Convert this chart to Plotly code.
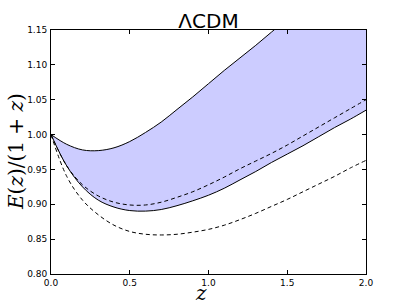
import plotly.graph_objects as go

z = [0.0, 0.1, 0.2, 0.3, 0.4, 0.5, 0.6, 0.7, 0.8, 0.9, 1.0, 1.1, 1.2, 1.3, 1.4, 1.5, 1.6, 1.7, 1.8, 1.9, 2.0]
upper_solid = [1.000, 0.986, 0.978, 0.977, 0.981, 0.990, 1.003, 1.018, 1.036, 1.054, 1.073, 1.092, 1.110, 1.128, 1.147, 1.166, 1.186, 1.207, 1.228, 1.250, 1.272]
lower_solid = [1.000, 0.955, 0.925, 0.906, 0.896, 0.8910, 0.8902, 0.8925, 0.898, 0.905, 0.913, 0.923, 0.935, 0.947, 0.960, 0.972, 0.984, 0.997, 1.010, 1.022, 1.035]
upper_dashed = [1.000, 0.955, 0.928, 0.912, 0.903, 0.899, 0.899, 0.903, 0.910, 0.918, 0.928, 0.939, 0.951, 0.962, 0.973, 0.985, 0.998, 1.011, 1.024, 1.037, 1.050]
lower_dashed = [1.000, 0.940, 0.906, 0.885, 0.870, 0.861, 0.857, 0.856, 0.857, 0.860, 0.864, 0.870, 0.878, 0.887, 0.897, 0.907, 0.918, 0.929, 0.940, 0.952, 0.963]

x_ticks = [0.0, 0.5, 1.0, 1.5, 2.0]
y_ticks = [0.80, 0.85, 0.90, 0.95, 1.00, 1.05, 1.10, 1.15]

fig = go.Figure()
fig.add_trace(go.Scatter(x=z, y=lower_solid, mode="lines", line=dict(color="black", width=1, shape="spline"), showlegend=False))
fig.add_trace(go.Scatter(x=z, y=upper_solid, mode="lines", line=dict(color="black", width=1, shape="spline"),
                         fill="tonexty", fillcolor="rgb(204,204,255)", showlegend=False))
fig.add_trace(go.Scatter(x=z, y=upper_dashed, mode="lines", line=dict(color="black", width=1, dash="4px,3px", shape="spline"), showlegend=False))
fig.add_trace(go.Scatter(x=z, y=lower_dashed, mode="lines", line=dict(color="black", width=1, dash="4px,3px", shape="spline"), showlegend=False))

axis_common = dict(showline=True, linecolor="black", linewidth=1, mirror="ticks", ticks="inside",
                   ticklen=4, tickcolor="black", showgrid=False, zeroline=False, automargin=False,
                   tickfont=dict(family="DejaVu Sans", size=9, color="black"))

fig.update_xaxes(range=[0, 2], tickvals=x_ticks, tickformat=".1f", ticklabelstandoff=0, **axis_common)
fig.update_yaxes(range=[0.80, 1.15], tickvals=y_ticks, tickformat=".2f", ticklabelstandoff=1, **axis_common)

fig.update_layout(
    width=407, height=305,
    margin=dict(l=51, r=41, t=30, b=31),
    paper_bgcolor="white", plot_bgcolor="white",
    title=dict(text="ΛCDM", x=0.5, xref="paper", xanchor="center", y=0.931, yanchor="middle",
               font=dict(family="DejaVu Sans", size=20, color="black")),
    annotations=[
        dict(text="<i>E</i>(<i>z</i>)/(1 + <i>z</i>)", xref="paper", yref="paper", x=-0.111, y=0.5,
             xanchor="center", yanchor="middle", textangle=-90, showarrow=False,
             font=dict(family="DejaVu Serif", size=20, color="black")),
        dict(text="<i>z</i>", xref="paper", yref="paper", x=0.476, y=-0.078,
             xanchor="center", yanchor="middle", showarrow=False,
             font=dict(family="DejaVu Serif", size=20, color="black")),
    ],
)

# remove the default 8px page margin so the figure fills the 407x305 window
fig.write_html("out.html", config={"displayModeBar": False},
               post_script="document.body.style.margin='0';")
